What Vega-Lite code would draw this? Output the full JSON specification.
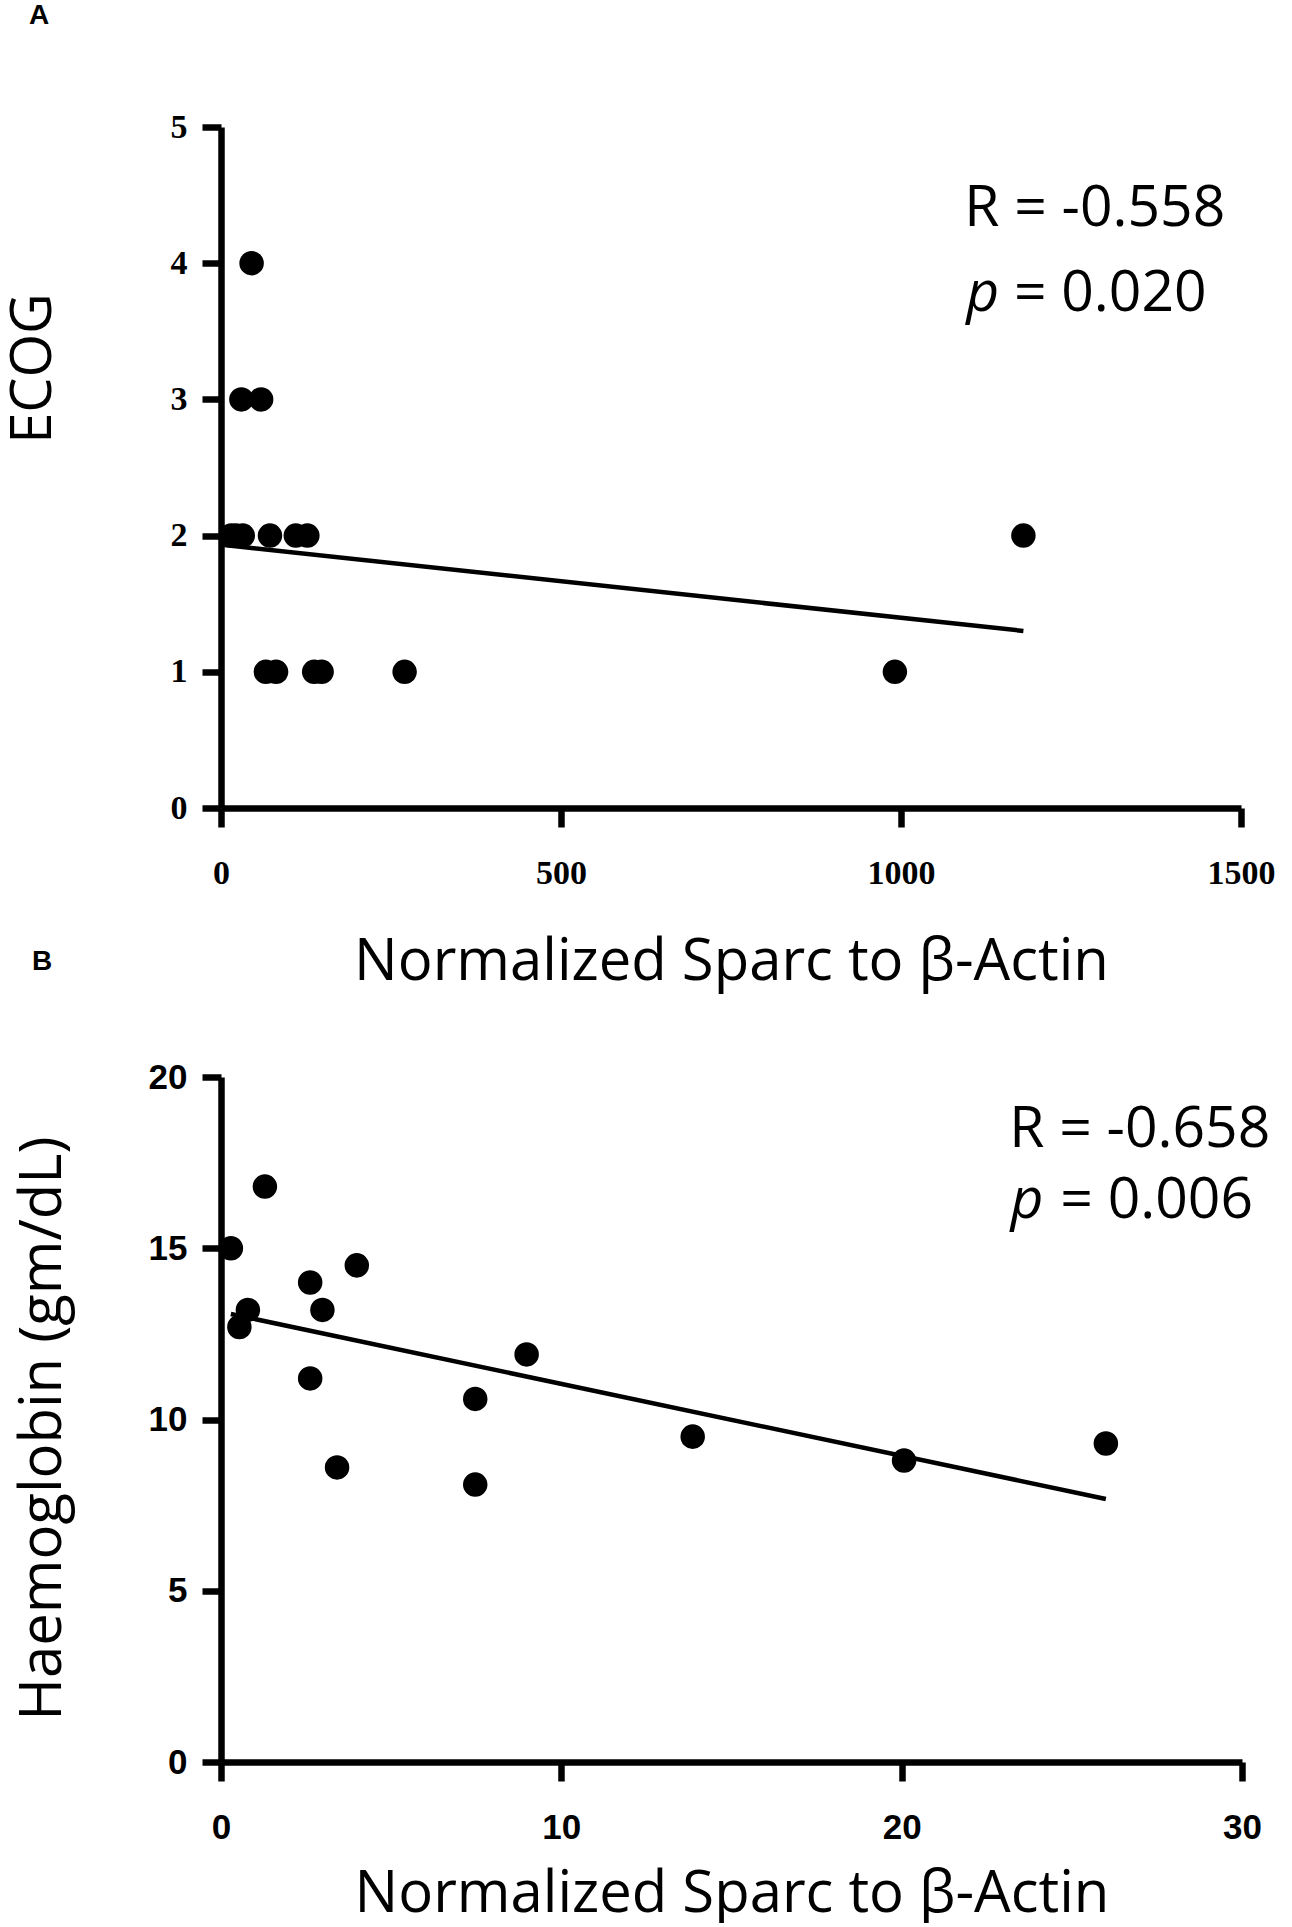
{
  "$schema": "https://vega.github.io/schema/vega-lite/v6.json",
  "background": "white",
  "padding": {"left": 4, "top": 2, "right": 5, "bottom": 0},
  "bounds": "flush",
  "spacing": 269,
  "config": {
    "view": {"stroke": null},
    "axis": {"grid": false, "domainColor": "black", "domainWidth": 6.5, "tickColor": "black", "tickWidth": 6.5, "tickSize": 19, "labelColor": "black", "titleColor": "black", "titleFont": "Open Sans", "titleFontWeight": "normal"},
    "title": {"font": "Liberation Sans", "fontWeight": "bold", "fontSize": 28, "anchor": "start", "frame": "group", "baseline": "alphabetic", "color": "black"}
  },
  "datasets": {
    "ecog": [
      {"sparc": 45, "ecog": 4},
      {"sparc": 30, "ecog": 3},
      {"sparc": 59, "ecog": 3},
      {"sparc": 15, "ecog": 2},
      {"sparc": 22, "ecog": 2},
      {"sparc": 32, "ecog": 2},
      {"sparc": 72, "ecog": 2},
      {"sparc": 110, "ecog": 2},
      {"sparc": 127, "ecog": 2},
      {"sparc": 1180, "ecog": 2},
      {"sparc": 66, "ecog": 1},
      {"sparc": 81, "ecog": 1},
      {"sparc": 137, "ecog": 1},
      {"sparc": 148, "ecog": 1},
      {"sparc": 270, "ecog": 1},
      {"sparc": 991, "ecog": 1}
    ],
    "ecogFit": [
      {"sparc": 5, "ecog": 1.93},
      {"sparc": 1180, "ecog": 1.30}
    ],
    "ecogR": [{"sparc": 1093, "ecog": 4.27, "label": "R = -0.558"}],
    "ecogP": [{"sparc": 1096, "ecog": 3.65, "label": "p"}],
    "ecogPv": [{"sparc": 1166, "ecog": 3.65, "label": "= 0.020"}],
    "hb": [
      {"sparc": 0.29, "hb": 15.0},
      {"sparc": 1.29, "hb": 16.8},
      {"sparc": 0.79, "hb": 13.2},
      {"sparc": 0.54, "hb": 12.7},
      {"sparc": 2.62, "hb": 14.0},
      {"sparc": 2.98, "hb": 13.2},
      {"sparc": 3.99, "hb": 14.5},
      {"sparc": 2.62, "hb": 11.2},
      {"sparc": 3.41, "hb": 8.6},
      {"sparc": 7.47, "hb": 10.6},
      {"sparc": 7.47, "hb": 8.1},
      {"sparc": 8.98, "hb": 11.9},
      {"sparc": 13.86, "hb": 9.5},
      {"sparc": 20.07, "hb": 8.8},
      {"sparc": 26.0, "hb": 9.3}
    ],
    "hbFit": [
      {"sparc": 0.29, "hb": 13.08},
      {"sparc": 26.0, "hb": 7.68}
    ],
    "hbR": [{"sparc": 23.16, "hb": 17.96, "label": "R = -0.658"}],
    "hbP": [{"sparc": 23.2, "hb": 15.88, "label": "p"}],
    "hbPv": [{"sparc": 24.66, "hb": 15.88, "label": "= 0.006"}]
  },
  "vconcat": [
    {
      "width": 1020,
      "height": 681,
      "title": {"text": "A", "dx": -192, "offset": 80},
      "encoding": {
        "x": {"field": "sparc", "type": "quantitative", "scale": {"domain": [0, 1500], "nice": false},
          "axis": {"values": [0, 500, 1000, 1500], "format": "d", "labelFont": "Liberation Serif", "labelFontWeight": "bold", "labelFontSize": 34, "labelPadding": 29, "labelFlush": false,
            "title": "Normalized Sparc to β-Actin", "titleFontSize": 58, "titleBaseline": "alphabetic", "titleY": 171}},
        "y": {"field": "ecog", "type": "quantitative", "scale": {"domain": [0, 5], "nice": false},
          "axis": {"values": [0, 1, 2, 3, 4, 5], "labelFont": "Liberation Serif", "labelFontWeight": "bold", "labelFontSize": 34, "labelPadding": 15,
            "title": "ECOG", "titleFontSize": 56, "titleBaseline": "middle", "titleAlign": "center", "titleX": -188, "titleY": 241}}
      },
      "layer": [
        {"data": {"name": "ecogFit"}, "mark": {"type": "line", "color": "black", "strokeWidth": 4.5}},
        {"data": {"name": "ecog"}, "mark": {"type": "point", "filled": true, "color": "black", "opacity": 1, "size": 600}},
        {"data": {"name": "ecogR"}, "mark": {"type": "text", "align": "left", "baseline": "alphabetic", "font": "Open Sans", "fontSize": 57, "color": "black"}, "encoding": {"text": {"field": "label"}}},
        {"data": {"name": "ecogP"}, "mark": {"type": "text", "align": "left", "baseline": "alphabetic", "font": "Open Sans", "fontSize": 57, "fontStyle": "italic", "color": "black"}, "encoding": {"text": {"field": "label"}}},
        {"data": {"name": "ecogPv"}, "mark": {"type": "text", "align": "left", "baseline": "alphabetic", "font": "Open Sans", "fontSize": 57, "color": "black"}, "encoding": {"text": {"field": "label"}}}
      ]
    },
    {
      "width": 1021,
      "height": 685,
      "title": {"text": "B", "dx": -189, "offset": 84},
      "encoding": {
        "x": {"field": "sparc", "type": "quantitative", "scale": {"domain": [0, 30], "nice": false},
          "axis": {"values": [0, 10, 20, 30], "labelFont": "Liberation Sans", "labelFontWeight": "bold", "labelFontSize": 35, "labelPadding": 29, "labelFlush": false,
            "title": "Normalized Sparc to β-Actin", "titleFontSize": 58, "titleBaseline": "alphabetic", "titleY": 149}},
        "y": {"field": "hb", "type": "quantitative", "scale": {"domain": [0, 20], "nice": false},
          "axis": {"values": [0, 5, 10, 15, 20], "labelFont": "Liberation Sans", "labelFontWeight": "bold", "labelFontSize": 35, "labelPadding": 15,
            "title": "Haemoglobin (gm/dL)", "titleFontSize": 58, "titleBaseline": "middle", "titleAlign": "center", "titleX": -178, "titleY": 351}}
      },
      "layer": [
        {"data": {"name": "hbFit"}, "mark": {"type": "line", "color": "black", "strokeWidth": 4.5}},
        {"data": {"name": "hb"}, "mark": {"type": "point", "filled": true, "color": "black", "opacity": 1, "size": 600}},
        {"data": {"name": "hbR"}, "mark": {"type": "text", "align": "left", "baseline": "alphabetic", "font": "Open Sans", "fontSize": 57, "color": "black"}, "encoding": {"text": {"field": "label"}}},
        {"data": {"name": "hbP"}, "mark": {"type": "text", "align": "left", "baseline": "alphabetic", "font": "Open Sans", "fontSize": 57, "fontStyle": "italic", "color": "black"}, "encoding": {"text": {"field": "label"}}},
        {"data": {"name": "hbPv"}, "mark": {"type": "text", "align": "left", "baseline": "alphabetic", "font": "Open Sans", "fontSize": 57, "color": "black"}, "encoding": {"text": {"field": "label"}}}
      ]
    }
  ]
}
